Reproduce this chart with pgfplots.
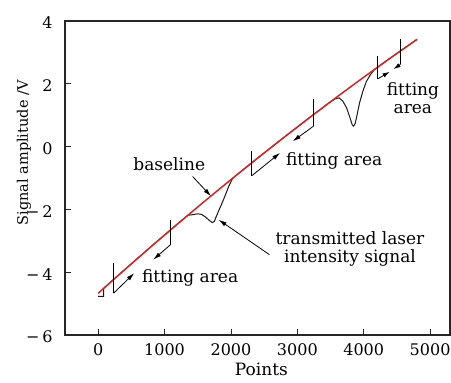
\documentclass[border=0pt]{standalone}
\usepackage{pgfplots}
\pgfplotsset{compat=1.18}
\usepackage{fontspec}
\setmainfont{DejaVu Serif}
\usetikzlibrary{arrows.meta}
\definecolor{basered}{RGB}{212,36,36}
\newcommand{\annot}{\fontsize{17}{18}\selectfont}
\newcommand{\tickf}{\fontsize{16}{18}\selectfont}
\begin{document}
\begin{tikzpicture}
\begin{axis}[
  scale only axis, width=385pt, height=314pt,
  xmin=-500, xmax=5300, ymin=-6, ymax=4,
  xtick={0,1000,2000,3000,4000,5000},
  xticklabels={0,1000,2000,3000,4000,5000},
  ytick={-6,-4,-2,0,2,4},
  yticklabels={−\,6,−\,4,−\,2,0,2,4},
  tick align=inside, tick pos=left, major tick length=6pt,
  axis line style={line width=1.1pt, black!85},
  every tick/.style={line width=0.9pt, black!85},
  xticklabel style={font=\tickf, yshift=-5pt},
  yticklabel style={font=\tickf, xshift=-9pt, yshift=-2pt},
  xlabel={Points},
  ylabel={Signal amplitude /V},
  xlabel style={at={(rel axis cs:0.51,-0.1274)}, anchor=base, font=\fontsize{17}{18}\selectfont},
  ylabel style={at={(rel axis cs:-0.1065,0.58)}, anchor=center, font=\fontsize{14.5}{16}\selectfont},
  clip=false,
]
% transmitted laser intensity signal
\addplot[black!90, line width=1pt] coordinates {
(0,-4.77)(80,-4.77)(80,-4.518)(400,-3.917)(800,-3.179)(1200,-2.455)(1350,-2.187)
(1420,-2.17)(1500,-2.14)(1560,-2.16)(1620,-2.25)(1680,-2.36)(1720,-2.42)(1750,-2.38)
(1780,-2.22)(1820,-2.02)(1870,-1.78)(1920,-1.52)(1970,-1.25)(2020,-1.03)(2060,-0.947)
(2400,-0.369)(2800,0.297)(3200,0.949)(3520,1.46)(3580,1.53)(3630,1.55)(3685,1.45)(3745,1.22)
(3796,0.90)(3826,0.70)(3846,0.65)(3871,0.73)(3901,1.02)(3937,1.39)(3987,1.76)
(4037,2.06)(4098,2.28)(4160,2.45)(4400,2.819)(4800,3.41)};
% baseline
\addplot[basered, line width=1.5pt] coordinates {
(0,-4.67)(400,-3.917)(800,-3.179)(1200,-2.455)(1600,-1.745)(2000,-1.05)(2400,-0.369)
(2800,0.297)(3200,0.949)(3600,1.587)(4000,2.21)(4400,2.819)(4807,3.42)};
% fitting area markers
\addplot[black, line width=0.8pt] coordinates {(231,-3.71)(231,-4.67)};
\addplot[black, line width=0.8pt, -{Latex[length=8pt,width=4.5pt]}] coordinates {(231,-4.67)(543,-4.03)};
\addplot[black, line width=0.8pt] coordinates {(1086,-2.33)(1086,-3.13)};
\addplot[black, line width=0.8pt, -{Latex[length=8pt,width=4.5pt]}] coordinates {(1086,-3.13)(830,-3.60)};
\addplot[black, line width=0.8pt] coordinates {(2313,-0.15)(2313,-0.93)};
\addplot[black, line width=0.8pt, -{Latex[length=8pt,width=4.5pt]}] coordinates {(2313,-0.93)(2740,-0.20)};
\addplot[black, line width=0.8pt] coordinates {(3243,1.50)(3243,0.65)};
\addplot[black, line width=0.8pt, -{Latex[length=8pt,width=4.5pt]}] coordinates {(3243,0.65)(2931,0.17)};
\addplot[black, line width=0.8pt] coordinates {(4213,2.88)(4213,2.16)};
\addplot[black, line width=0.8pt, -{Latex[length=7pt,width=4.5pt]}] coordinates {(4213,2.16)(4390,2.38)};
\addplot[black, line width=0.8pt] coordinates {(4555,3.43)(4555,2.62)};
\addplot[black, line width=0.8pt, -{Latex[length=7pt,width=4.5pt]}] coordinates {(4555,2.62)(4450,2.47)};
% annotations
\draw[black, line width=0.8pt, -{Latex[length=8pt,width=4.5pt]}] (axis cs:1422,-0.95) -- (axis cs:1700,-1.58);
\draw[black, line width=0.8pt, -{Latex[length=8pt,width=4.5pt]}] (axis cs:2579,-3.44) -- (axis cs:1815,-2.33);
\node[font=\annot] at (axis cs:1071,-0.57) {baseline};
\node[font=\annot] at (axis cs:3555,-0.47) {fitting area};
\node[font=\annot] at (axis cs:1385,-4.19) {fitting area};
\node[font=\annot, align=center] at (axis cs:3793,-3.27) {transmitted laser\\intensity signal};
\node[font=\annot, align=center] at (axis cs:4741,1.555) {fitting\\area};
\end{axis}
\pgfresetboundingbox
\path ([shift={(-65pt,-47pt)}]current axis.south west) rectangle ([shift={(1pt,21pt)}]current axis.north east);
\end{tikzpicture}
\end{document}
